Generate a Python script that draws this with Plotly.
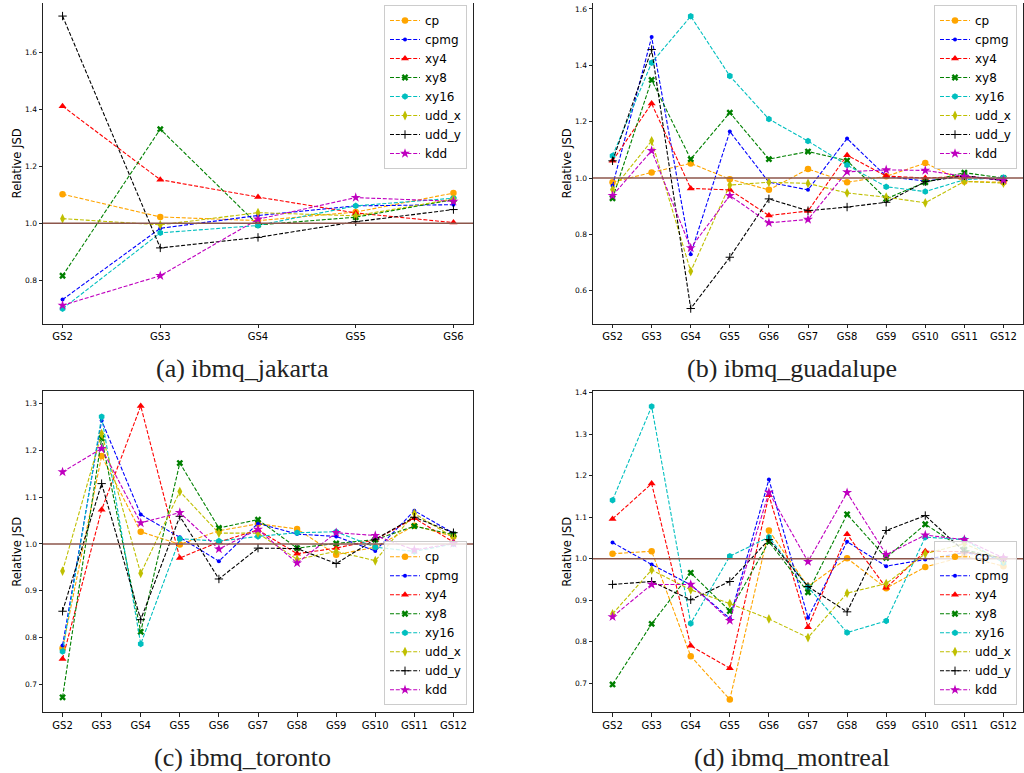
import plotly.graph_objects as go

# ---------------- data ----------------
series_names = ["cp", "cpmg", "xy4", "xy8", "xy16", "udd_x", "udd_y", "kdd"]

gs_a = ["GS2", "GS3", "GS4", "GS5", "GS6"]
gs_full = ["GS2", "GS3", "GS4", "GS5", "GS6", "GS7", "GS8", "GS9", "GS10", "GS11", "GS12"]

# (a) ibmq_jakarta
jak_cp    = [1.102, 1.022, 1.009, 1.039, 1.106]
jak_cpmg  = [0.731, 0.982, 1.027, 1.061, 1.065]
jak_xy4   = [1.412, 1.153, 1.092, 1.036, 1.002]
jak_xy8   = [0.815, 1.331, 0.994, 1.021, 1.083]
jak_xy16  = [0.699, 0.966, 0.992, 1.061, 1.088]
jak_uddx  = [1.016, 0.994, 1.037, 1.026, 1.085]
jak_uddy  = [1.729, 0.913, 0.950, 1.005, 1.048]
jak_kdd   = [0.711, 0.815, 1.014, 1.090, 1.077]

# (b) ibmq_guadalupe
gua_cp    = [0.985, 1.020, 1.052, 0.996, 0.958, 1.032, 0.985, 1.006, 1.053, 0.988, 0.985]
gua_cpmg  = [0.973, 1.500, 0.730, 1.165, 0.985, 0.958, 1.140, 1.006, 0.989, 1.008, 0.991]
gua_xy4   = [1.061, 1.264, 0.963, 0.958, 0.867, 0.883, 1.081, 1.007, 1.000, 1.006, 0.994]
gua_xy8   = [0.928, 1.348, 1.067, 1.232, 1.067, 1.094, 1.062, 0.926, 0.985, 1.019, 1.000]
gua_xy16  = [1.079, 1.409, 1.574, 1.362, 1.209, 1.131, 1.046, 0.969, 0.952, 0.994, 1.002]
gua_uddx  = [0.959, 1.132, 0.669, 0.975, 0.985, 0.981, 0.947, 0.932, 0.912, 0.988, 0.982]
gua_uddy  = [1.061, 1.456, 0.537, 0.719, 0.926, 0.884, 0.897, 0.914, 0.987, 1.008, 0.991]
gua_kdd   = [0.938, 1.097, 0.752, 0.938, 0.841, 0.853, 1.022, 1.029, 1.027, 1.006, 0.993]

# (c) ibmq_toronto
tor_cp    = [0.777, 1.188, 1.026, 0.999, 1.028, 1.043, 1.032, 0.977, 0.993, 1.039, 1.016]
tor_cpmg  = [0.783, 1.264, 1.063, 1.014, 0.963, 1.044, 1.021, 1.016, 0.985, 1.071, 1.023]
tor_xy4   = [0.754, 1.073, 1.295, 0.970, 1.004, 1.030, 0.979, 0.991, 1.009, 1.055, 1.004]
tor_xy8   = [0.672, 1.226, 0.812, 1.173, 1.034, 1.052, 0.991, 1.001, 1.009, 1.038, 1.020]
tor_xy16  = [0.770, 1.272, 0.786, 1.011, 1.006, 1.016, 1.024, 1.026, 0.993, 0.984, 1.000]
tor_uddx  = [0.942, 1.236, 0.937, 1.112, 1.023, 1.023, 0.967, 0.984, 0.964, 1.065, 1.014]
tor_uddy  = [0.856, 1.129, 0.838, 1.059, 0.925, 0.991, 0.990, 0.958, 1.010, 1.057, 1.024]
tor_kdd   = [1.154, 1.204, 1.045, 1.067, 0.989, 1.031, 0.959, 1.024, 1.018, 0.987, 1.001]

# (d) ibmq_montreal
mon_cp    = [1.012, 1.018, 0.765, 0.661, 1.068, 0.933, 1.001, 0.929, 0.980, 1.006, 0.982]
mon_cpmg  = [1.039, 0.986, 0.937, 0.856, 1.191, 0.858, 1.041, 0.982, 0.998, 1.015, 0.998]
mon_xy4   = [1.096, 1.181, 0.790, 0.736, 1.153, 0.835, 1.059, 0.930, 1.018, 1.017, 1.002]
mon_xy8   = [0.697, 0.843, 0.966, 0.874, 1.041, 0.919, 1.107, 1.002, 1.083, 1.022, 0.998]
mon_xy16  = [1.141, 1.367, 0.844, 1.006, 1.052, 0.932, 0.822, 0.850, 1.052, 1.046, 0.990]
mon_uddx  = [0.867, 0.973, 0.925, 0.892, 0.855, 0.810, 0.917, 0.940, 1.012, 1.036, 0.996]
mon_uddy  = [0.938, 0.945, 0.901, 0.945, 1.046, 0.933, 0.872, 1.068, 1.104, 1.017, 1.002]
mon_kdd   = [0.860, 0.938, 0.938, 0.851, 1.160, 0.993, 1.159, 1.010, 1.057, 1.046, 1.002]

captions = ["(a) ibmq_jakarta", "(b) ibmq_guadalupe", "(c) ibmq_toronto", "(d) ibmq_montreal"]

# ---------------- styles ----------------
colors = {"cp": "#FFA500", "cpmg": "#0000FF", "xy4": "#FF0000", "xy8": "#008000",
          "xy16": "#00BFBF", "udd_x": "#BFBF00", "udd_y": "#000000", "kdd": "#BF00BF"}
symbols = {"cp": "circle", "cpmg": "circle", "xy4": "triangle-up", "xy8": "x",
           "xy16": "hexagon", "udd_x": "diamond-tall", "udd_y": "cross-thin", "kdd": "star"}
msizes = {"cp": 6.5, "cpmg": 4, "xy4": 7, "xy8": 6, "xy16": 6.5, "udd_x": 7, "udd_y": 6, "kdd": 7.5}

panels = [
    (gs_a, [jak_cp, jak_cpmg, jak_xy4, jak_xy8, jak_xy16, jak_uddx, jak_uddy, jak_kdd]),
    (gs_full, [gua_cp, gua_cpmg, gua_xy4, gua_xy8, gua_xy16, gua_uddx, gua_uddy, gua_kdd]),
    (gs_full, [tor_cp, tor_cpmg, tor_xy4, tor_xy8, tor_xy16, tor_uddx, tor_uddy, tor_kdd]),
    (gs_full, [mon_cp, mon_cpmg, mon_xy4, mon_xy8, mon_xy16, mon_uddx, mon_uddy, mon_kdd]),
]

W, H = 1024, 773
# pixel boxes of plot areas: (left, right, top, bottom)
boxes = [(43, 473, -1, 322), (593, 1023, -1, 322), (43, 473, 390, 712), (593, 1023, 390, 712)]
yranges = [[0.646, 1.775], [0.483, 1.621], [0.640, 1.326], [0.630, 1.403]]
yticks = [[0.8, 1.0, 1.2, 1.4, 1.6], [0.6, 0.8, 1.0, 1.2, 1.4, 1.6],
          [0.7, 0.8, 0.9, 1.0, 1.1, 1.2, 1.3], [0.7, 0.8, 0.9, 1.0, 1.1, 1.2, 1.3, 1.4]]
legend_pos = [(467, 2, "top"), (1017, 2, "top"), (467, 705, "bottom"), (1017, 705, "bottom")]

fig = go.Figure()
layout = dict(width=W, height=H, margin=dict(l=0, r=0, t=0, b=0),
              paper_bgcolor="white", plot_bgcolor="white", showlegend=True,
              annotations=[], shapes=[])

for i, (cats, vals) in enumerate(panels):
    k = "" if i == 0 else str(i + 1)
    xa, ya = "x" + k, "y" + k
    lg = "legend" + k
    for name, v in zip(series_names, vals):
        fig.add_trace(go.Scatter(
            x=cats, y=v, name=name, mode="lines+markers",
            xaxis=xa, yaxis=ya, legend=lg,
            line=dict(color=colors[name], width=1.1, dash="4px,1.8px"),
            marker=dict(symbol=symbols[name], size=msizes[name], color=colors[name],
                        line=dict(width=1 if name == "udd_y" else 0, color=colors[name])),
        ))
    l, r, t, b = boxes[i]
    n = len(cats)
    pad = 0.05 * (n - 1)
    layout["xaxis" + k] = dict(
        domain=[l / W, r / W], anchor=ya, type="category",
        range=[-pad, n - 1 + pad], showline=True, linecolor="#222", linewidth=1,
        mirror=(i >= 2), ticks="outside", ticklen=3.5, tickcolor="#222",
        tickfont=dict(family="DejaVu Sans", size=10, color="black"),
        showgrid=False, zeroline=False, fixedrange=True)
    layout["yaxis" + k] = dict(
        domain=[1 - b / H, min(1.0, 1 - t / H)], anchor=xa,
        range=yranges[i], tickvals=yticks[i],
        ticktext=["%.1f" % v for v in yticks[i]],
        showline=True, linecolor="#222", linewidth=1, mirror=True,
        ticks="outside", ticklen=3.5, tickcolor="#222",
        tickfont=dict(family="DejaVu Sans", size=7.5, color="black"),
        showgrid=False, zeroline=False, fixedrange=True)
    lx, ly, anc = legend_pos[i]
    layout[lg] = dict(
        x=lx / W, y=1 - ly / H, xanchor="right", yanchor=anc,
        bgcolor="rgba(255,255,255,0.8)", bordercolor="#cccccc", borderwidth=1,
        font=dict(family="DejaVu Sans", size=12, color="black"),
        tracegroupgap=0, itemwidth=30)
    # reference line at 1.0
    layout["shapes"].append(dict(
        type="line", xref=xa + " domain", yref=ya, x0=0, x1=1, y0=1.0, y1=1.0,
        line=dict(color="#8c564b", width=1.5), layer="above"))
    # y axis title
    cy = (max(t, 0) + b) / 2
    layout["annotations"].append(dict(
        text="Relative JSD", textangle=-90, xref="paper", yref="paper",
        x=(l - 26) / W, y=1 - cy / H, showarrow=False,
        xanchor="center", yanchor="middle",
        font=dict(family="DejaVu Sans", size=11.6, color="black")))
    # caption
    layout["annotations"].append(dict(
        text=captions[i], xref="paper", yref="paper",
        x=((l + r) / 2 - 16) / W, y=1 - (b + 45) / H, showarrow=False,
        xanchor="center", yanchor="middle",
        font=dict(family="Liberation Serif", size=26, color="#222")))

fig.update_layout(**layout)
fig.write_html(
    "out.html",
    config={"displayModeBar": False},
    post_script="document.body.style.margin='0px';document.body.style.padding='0px';"
                "document.documentElement.style.overflow='hidden';document.body.style.overflow='hidden';")
